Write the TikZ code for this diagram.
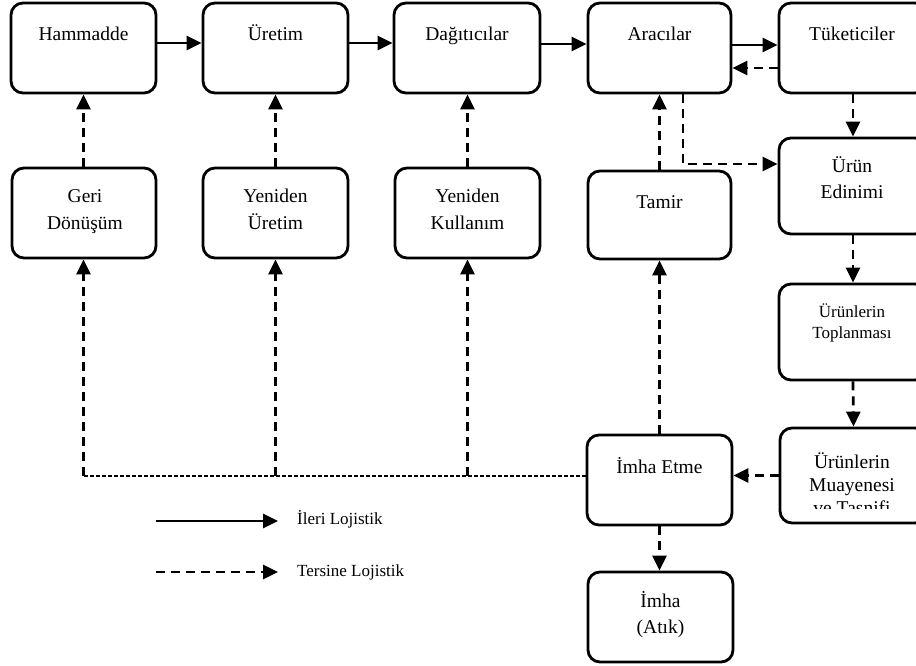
\documentclass[tikz,border=0pt]{standalone}
\usepackage{fontspec}
\setmainfont{Liberation Serif}
\usetikzlibrary{arrows.meta}
\begin{document}
\begin{tikzpicture}[x=1pt,y=-1pt,
  box/.style={draw, line width=2.8pt, rounded corners=12pt, inner sep=0pt},
  lbl/.style={font=\fontsize{19.5pt}{26pt}\selectfont, align=center, inner sep=0pt, anchor=base},
  small/.style={font=\fontsize{17pt}{21pt}\selectfont, align=center, inner sep=0pt, anchor=base},
  leg/.style={font=\fontsize{17pt}{20pt}\selectfont, inner sep=0pt, anchor=base west},
  fwd/.style={line width=2.7pt, -{Triangle[length=15pt,width=14pt]}},
  rev/.style={fwd, dash pattern=on 9pt off 6pt},
  thinrev/.style={line width=1.2pt, dash pattern=on 4pt off 2pt}]
\clip (0,0) rectangle (916,666);
\fill[white] (0,0) rectangle (916,666);
% top row
\node[box, minimum width=145pt, minimum height=90pt] (ham) at (83.5,48) {};
\node[box, minimum width=145pt, minimum height=90pt] (ure) at (275.5,48) {};
\node[box, minimum width=146pt, minimum height=90pt] (dag) at (467,48) {};
\node[box, minimum width=143pt, minimum height=90pt] (ara) at (659.5,48) {};
\node[box, minimum width=148pt, minimum height=90pt] (tuk) at (853,48) {};
\node[lbl] (hamt) at (83.5,41) {Hammadde};
\node[lbl] (uret) at (275.5,41) {Üretim};
\node[lbl] (dagt) at (467,41) {Dağıtıcılar};
\node[lbl] (arat) at (659.5,41) {Aracılar};
\node[lbl] (tukt) at (852,41) {Tüketiciler};
% second row
\node[box, minimum width=144pt, minimum height=90pt] (geri) at (84,213) {};
\node[box, minimum width=145pt, minimum height=90pt] (yu) at (275.5,213) {};
\node[box, minimum width=145pt, minimum height=90pt] (yk) at (467.5,213) {};
\node[box, minimum width=143pt, minimum height=88pt] (tam) at (659.5,215) {};
\node[box, minimum width=148pt, minimum height=96pt] (edin) at (853,186) {};
\node[lbl] (gerit) at (85,229) {Geri\\Dönüşüm};
\node[lbl] (yut) at (275.5,229) {Yeniden\\Üretim};
\node[lbl] (ykt) at (467.5,229) {Yeniden\\Kullanım};
\node[lbl] (tamt) at (659.5,208) {Tamir};
\node[lbl] (edint) at (852,199) {Ürün\\Edinimi};
% right column
\node[box, minimum width=148pt, minimum height=96pt] (topl) at (853,332) {};
\node[small] (toplt) at (852,338) {Ürünlerin\\Toplanması};
\node[box, minimum width=147pt, minimum height=95pt] (muay) at (853.5,475.5) {};
\begin{scope}
\clip (782,430) rectangle (916,508.5);
\node[lbl, font=\fontsize{19.5pt}{23pt}\selectfont] (muayt) at (852,514) {Ürünlerin\\Muayenesi\\ve Tasnifi};
\end{scope}
% bottom
\node[box, minimum width=145pt, minimum height=90pt] (imet) at (659.5,480) {};
\node[box, minimum width=145pt, minimum height=90pt] (imha) at (660.5,617) {};
\node[lbl] (imett) at (659.5,473) {İmha Etme};
\node[lbl] (imhat) at (660.5,633) {İmha\\(Atık)};
% forward arrows
\draw[fwd] ([yshift=5pt]ham.east) -- ([yshift=5pt]ure.west);
\draw[fwd] ([yshift=5pt]ure.east) -- ([yshift=5pt]dag.west);
\draw[fwd] ([yshift=4pt]dag.east) -- ([yshift=4pt]ara.west);
\draw[fwd] ([yshift=3pt]ara.east) -- ([yshift=3pt]tuk.west);
% reverse arrows
\draw[rev] ([yshift=-20pt]tuk.west) -- ([yshift=-20pt]ara.east);
\draw[rev] (geri.north -| ham.south) -- (ham.south);
\draw[rev] (yu.north) -- (yu.north |- ure.south);
\draw[rev] (yk.north) -- (yk.north |- dag.south);
\draw[rev] (tam.north) -- (tam.north |- ara.south);
\draw[rev] ([xshift=23.5pt]ara.south) |- ([yshift=22pt]edin.west);
\draw[rev] (tuk.south) -- (edin.north);
\draw[rev] (edin.south) -- (topl.north);
\draw[rev] (topl.south) -- (muay.north);
\draw[rev] (muay.west) -- (muay.west -| imet.east);
\draw[rev] (imet.north) -- (imet.north |- tam.south);
\draw[rev] (imet.south) -- (imet.south |- imha.north);
% disposal lines
\coordinate (j0) at ([yshift=4pt]imet.west);
\coordinate (j1) at (j0 -| ham.south);
\coordinate (j2) at (j0 -| yu.south);
\coordinate (j3) at (j0 -| yk.south);
\draw[thinrev] (j0) -- (j1);
\draw[rev] (j1) -- (j1 |- geri.south);
\draw[rev] (j2) -- (yu.south);
\draw[rev] (j3) -- (yk.south);
% legend
\coordinate (la1) at (156,521);
\coordinate (la2) at (278,521);
\coordinate (lb1) at (156,572);
\coordinate (lb2) at (278,572);
\draw[fwd] (la1) -- (la2);
\draw[rev] (lb1) -- (lb2);
\node[leg] (legf) at (297,524) {İleri Lojistik};
\node[leg] (legr) at (297,576) {Tersine Lojistik};
\end{tikzpicture}
\end{document}
